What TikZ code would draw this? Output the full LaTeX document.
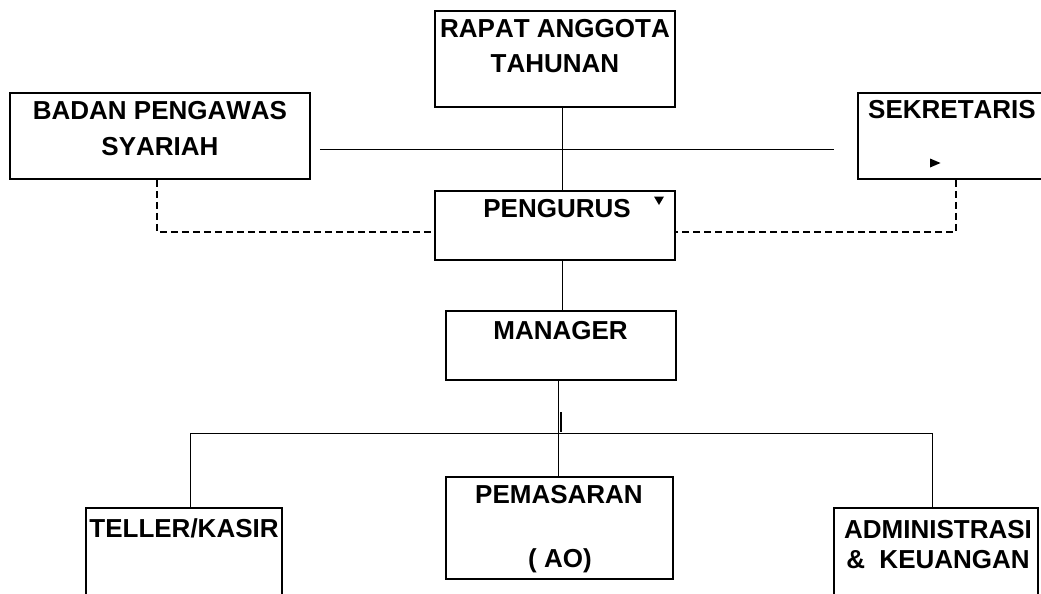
\documentclass[tikz,border=0pt]{standalone}
\usepackage{fontspec}
\setmainfont{Liberation Sans}[Kerning=Off]
\usetikzlibrary{calc}
\begin{document}
\begin{tikzpicture}[x=1pt,y=-1pt,
  box/.style={draw,line width=1.6pt,rectangle,inner sep=0pt},
  lbl/.style={anchor=base,inner sep=0pt,font=\fontsize{26}{30}\selectfont\bfseries},
  conn/.style={line width=0.9pt},
  dconn/.style={line width=1.1pt,dash pattern=on 7pt off 4pt}]
\useasboundingbox (0,0) rectangle (1041,594);
\fill[white] (0,0) rectangle (1041,594);
\clip (0,0) rectangle (1041,594);
% boxes
\node[box,minimum width=240pt,minimum height=96pt] (rapat) at (555,59) {};
\node[box,minimum width=300pt,minimum height=86pt] (badan) at (160,136) {};
\node[box,minimum width=202pt,minimum height=86pt] (sek) at (959,136) {};
\node[box,minimum width=240pt,minimum height=69pt] (peng) at (555,225.5) {};
\node[box,minimum width=230pt,minimum height=69pt] (man) at (561,345.5) {};
\node[box,minimum width=196pt,minimum height=112pt] (teller) at (184,564) {};
\node[box,minimum width=227pt,minimum height=102pt] (pem) at (559.5,528) {};
\node[box,minimum width=204pt,minimum height=112pt] (adm) at (936,564) {};
% texts
\node[lbl] (t1) at (555,38) {RAPAT ANGGOTA};
\node[lbl] (t2) at (555,72) {TAHUNAN};
\node[lbl] (t3) at (160,119) {BADAN PENGAWAS};
\node[lbl] (t4) at (160,155) {SYARIAH};
\node[lbl] (t5) at (952,118) {SEKRETARIS};
\node[lbl] (t6) at (557,217) {PENGURUS};
\node[lbl] (t7) at (560.5,339) {MANAGER};
\node[lbl] (t8) at (559,503) {PEMASARAN};
\node[lbl] (t9) at (560,567) {( AO)};
\node[lbl] (t10) at (184,537) {TELLER/KASIR};
\node[lbl] (t11) at (938,538) {ADMINISTRASI};
\node[lbl] (t12) at (938,568) {\&\ \ KEUANGAN};
% small triangles
\fill (654,196.5) -- (664,196.5) -- (659,205) -- cycle;
\fill (930,158.5) -- (940.5,163) -- (930,167.5) -- cycle;
% connectors
\draw[conn] ([xshift=7]rapat.south) -- ([xshift=7]peng.north);
\draw[conn] ($(badan.east)+(9,13)$) -- ($(sek.west)+(-23,13)$);
\draw[dconn] ([xshift=-3]badan.south) |- ([yshift=-6.5]peng.west);
\draw[dconn] ([xshift=-3]sek.south) |- ([yshift=-6.5]peng.east);
\draw[conn] ([xshift=7]peng.south) -- ([xshift=1]man.north);
\coordinate (bus) at (558,433);
\coordinate (tl) at ([xshift=6]teller.north);
\coordinate (ad) at ([xshift=-4]adm.north);
\draw[conn] ([xshift=-3]man.south) -- ([xshift=-1.5]pem.north);
\draw[conn] (tl) -- (tl |- bus) -- (ad |- bus) -- (ad);
\draw[line width=1.8pt] ($(bus)+(2.7,-21)$) -- ($(bus)+(2.7,-1)$);
\end{tikzpicture}
\end{document}
